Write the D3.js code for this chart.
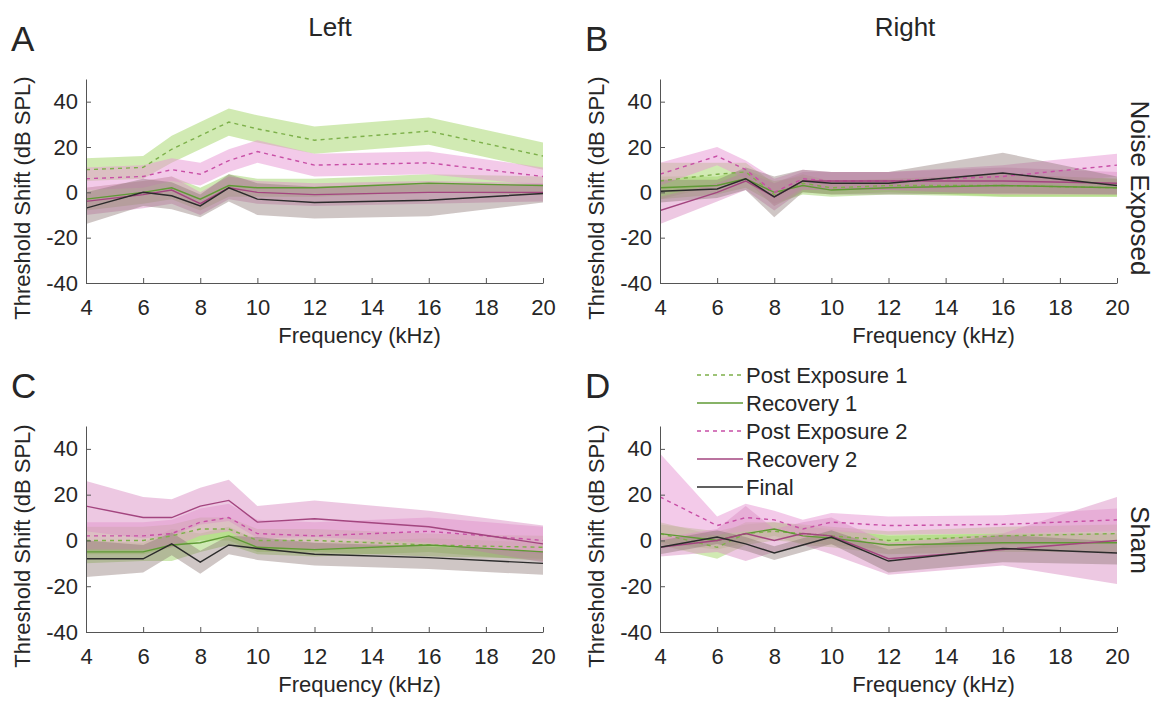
<!DOCTYPE html>
<html>
<head>
<meta charset="utf-8">
<script src="https://cdn.jsdelivr.net/npm/d3@7"></script>
<style>
  html, body { margin: 0; padding: 0; background: #fff; }
  svg { display: block; font-family: "Liberation Sans", Arial, Helvetica, sans-serif; }
</style>
</head>
<body>
<svg id="fig" width="1163" height="702"></svg>
<script>
// Test frequencies (kHz)
const freqs = [4, 6, 7, 8, 9, 10, 12, 16, 20];
const seriesNames = ["Post Exposure 1", "Recovery 1", "Post Exposure 2", "Recovery 2", "Final"];
const xTicks = [4, 6, 8, 10, 12, 14, 16, 18, 20];
const yTicks = [-40, -20, 0, 20, 40];

// Panel A: left ear, noise exposed (mean and SD, dB)
const leftNoisePE1 = [10, 11, 19, 25, 31, 28, 23, 27, 16];
const leftNoisePE1Sd = [5, 5, 6, 6, 6, 6, 6, 6, 6];
const leftNoiseR1 = [-3, 0, 2, -3, 3, 2, 2, 4, 3];
const leftNoiseR1Sd = [5, 5, 5, 5, 5, 4, 4, 4, 4];
const leftNoisePE2 = [6, 7, 10, 8, 14, 18, 12, 13, 7];
const leftNoisePE2Sd = [5, 5, 5, 5, 5, 5, 5, 5, 4];
const leftNoiseR2 = [-4, -1, 1, -5, 2, 0, -1, 0, 0];
const leftNoiseR2Sd = [6, 6, 6, 5, 5, 5, 5, 5, 4];
const leftNoiseFinal = [-7, 0, -1.5, -6, 2, -3, -4.5, -3.5, -0.5];
const leftNoiseFinalSd = [7, 6, 6, 5, 6, 7, 7, 7, 4];

// Panel B: right ear, noise exposed
const rightNoisePE1 = [5, 8, 9, -1, 4, 2, 3, 3, 2];
const rightNoisePE1Sd = [8, 5, 4, 5, 4, 3, 3, 5, 4];
const rightNoiseR1 = [2, 3, 6, 0, 3, 1, 2, 3, 2];
const rightNoiseR1Sd = [5, 4, 4, 5, 4, 3, 3, 5, 4];
const rightNoisePE2 = [8, 16, 10, 0, 6, 5, 5, 7, 12];
const rightNoisePE2Sd = [5, 4, 4, 6, 4, 4, 4, 5, 5];
const rightNoiseR2 = [-8, 0, 5, -2, 5, 5, 5, 5, 4];
const rightNoiseR2Sd = [6, 4, 4, 6, 4, 4, 4, 6, 5];
const rightNoiseFinal = [0.5, 1.5, 6, -2, 5, 4, 4, 8.5, 3];
const rightNoiseFinalSd = [5, 4, 5, 9, 5, 5, 5, 9, 4];

// Panel C: left ear, sham
const leftShamPE1 = [0, 0, 2, 5, 5, 0, 0, -2, -3];
const leftShamPE1Sd = [6, 6, 5, 5, 5, 5, 5, 5, 5];
const leftShamR1 = [-5, -5, -2, -1, 2, -3, -4, -2, -5];
const leftShamR1Sd = [5, 4, 7, 4, 4, 3, 3, 3, 4];
const leftShamPE2 = [2, 2, 3, 8, 10, 3, 2, 4, 0];
const leftShamPE2Sd = [6, 6, 6, 6, 6, 6, 6, 6, 6];
const leftShamR2 = [15, 10, 10, 15, 17.5, 8, 9.5, 6, -1.5];
const leftShamR2Sd = [11, 9, 8, 8, 9, 7, 8, 7, 8];
const leftShamFinal = [-8, -8, -1.5, -9.5, -2, -3.5, -6, -7.5, -10];
const leftShamFinalSd = [8, 6, 5, 5, 4, 5, 5, 5, 5];

// Panel D: right ear, sham
const rightShamPE1 = [3, -3, 3, 4, 3, 2, 0, 2, 3];
const rightShamPE1Sd = [5, 5, 5, 4, 4, 4, 4, 4, 4];
const rightShamR1 = [3, 0, 3, 5, 2, 1, -2, -1, -1];
const rightShamR1Sd = [4, 4, 4, 3, 4, 4, 4, 4, 4];
const rightShamPE2 = [19, 6.5, 10, 9, 5, 8, 6.5, 7, 9];
const rightShamPE2Sd = [19, 4, 6, 4, 4, 4, 4, 4, 5];
const rightShamR2 = [-3, 0, 3, 0, 3, 2, -8, -4, 0];
const rightShamR2Sd = [4, 5, 12, 5, 5, 8, 7, 7, 19];
const rightShamFinal = [-3, 1.5, -1.5, -5.5, -2, 1.5, -9, -3.5, -5.5];
const rightShamFinalSd = [3, 3, 3, 3, 3, 3, 5, 6, 5];

// Line and band styling for each condition
const styles = [
  { line: "#7db04a", fill: "#b2dc80", fillOpacity: 0.6, dash: "4,4" },
  { line: "#5f9a35", fill: "#a0d46a", fillOpacity: 0.5, dash: null },
  { line: "#c84fa6", fill: "#e796d4", fillOpacity: 0.5, dash: "4,4" },
  { line: "#a3457f", fill: "#dc92c6", fillOpacity: 0.5, dash: null },
  { line: "#2b2b2b", fill: "#86706f", fillOpacity: 0.4, dash: null }
];

const panels = [
  { letter: "A", x0: 86, x1: 543, yBot: 283, yTop: 79,
    means: [leftNoisePE1, leftNoiseR1, leftNoisePE2, leftNoiseR2, leftNoiseFinal],
    sds: [leftNoisePE1Sd, leftNoiseR1Sd, leftNoisePE2Sd, leftNoiseR2Sd, leftNoiseFinalSd] },
  { letter: "B", x0: 660, x1: 1117, yBot: 283, yTop: 79,
    means: [rightNoisePE1, rightNoiseR1, rightNoisePE2, rightNoiseR2, rightNoiseFinal],
    sds: [rightNoisePE1Sd, rightNoiseR1Sd, rightNoisePE2Sd, rightNoiseR2Sd, rightNoiseFinalSd] },
  { letter: "C", x0: 86, x1: 543, yBot: 632, yTop: 426,
    means: [leftShamPE1, leftShamR1, leftShamPE2, leftShamR2, leftShamFinal],
    sds: [leftShamPE1Sd, leftShamR1Sd, leftShamPE2Sd, leftShamR2Sd, leftShamFinalSd] },
  { letter: "D", x0: 660, x1: 1117, yBot: 632, yTop: 426,
    means: [rightShamPE1, rightShamR1, rightShamPE2, rightShamR2, rightShamFinal],
    sds: [rightShamPE1Sd, rightShamR1Sd, rightShamPE2Sd, rightShamR2Sd, rightShamFinalSd] }
];

const svg = d3.select("#fig");
const textColor = "#262626";
const axisColor = "#555";
const fs = 22;

panels.forEach((p, pi) => {
  const x = d3.scaleLinear().domain([4, 20]).range([p.x0, p.x1]);
  const y = d3.scaleLinear().domain([-40, 50]).range([p.yBot, p.yTop]);
  const g = svg.append("g");

  const clipId = "clip" + pi;
  svg.append("clipPath").attr("id", clipId).append("rect")
    .attr("x", p.x0).attr("y", p.yTop).attr("width", p.x1 - p.x0).attr("height", p.yBot - p.yTop);

  const plot = g.append("g").attr("clip-path", `url(#${clipId})`);
  p.means.forEach((m, si) => {
    const st = styles[si];
    const rows = freqs.map((f, i) => ({ f, m: m[i], sd: p.sds[si][i] }));
    const area = d3.area().x(d => x(d.f)).y0(d => y(d.m - d.sd)).y1(d => y(d.m + d.sd));
    plot.append("path").datum(rows).attr("d", area)
      .attr("fill", st.fill).attr("fill-opacity", st.fillOpacity).attr("stroke", "none");
  });
  p.means.forEach((m, si) => {
    const st = styles[si];
    const rows = freqs.map((f, i) => ({ f, m: m[i] }));
    const line = d3.line().x(d => x(d.f)).y(d => y(d.m));
    plot.append("path").datum(rows).attr("d", line)
      .attr("fill", "none").attr("stroke", st.line).attr("stroke-width", 1.4)
      .attr("stroke-dasharray", st.dash);
  });

  // Axes with inward ticks
  const xAxis = d3.axisBottom(x).tickValues(xTicks).tickSizeInner(-5).tickSizeOuter(0).tickPadding(16);
  const yAxis = d3.axisLeft(y).tickValues(yTicks).tickSizeInner(-5).tickSizeOuter(0).tickPadding(8)
    .tickFormat(d => d < 0 ? "-" + Math.abs(d) : d);
  const gx = g.append("g").attr("transform", `translate(0,${p.yBot})`).call(xAxis);
  const gy = g.append("g").attr("transform", `translate(${p.x0},0)`).call(yAxis);
  [gx, gy].forEach(a => {
    a.select(".domain").attr("stroke", axisColor);
    a.selectAll(".tick line").attr("stroke", axisColor);
    a.selectAll(".tick text").attr("fill", textColor).style("font-size", fs + "px")
      .style("font-family", '"Liberation Sans", Arial, sans-serif');
  });

  // Axis titles
  g.append("text").attr("x", (p.x0 + p.x1) / 2 + 45).attr("y", p.yBot + 60)
    .attr("text-anchor", "middle").attr("fill", textColor).style("font-size", fs + "px")
    .text("Frequency (kHz)");
  const ylx = p.x0 - 56, yly = (p.yTop + p.yBot) / 2 + 17;
  g.append("text").attr("transform", `translate(${ylx},${yly}) rotate(-90)`)
    .attr("text-anchor", "middle").attr("fill", textColor).style("font-size", fs + "px")
    .text("Threshold Shift (dB SPL)");

  // Panel letter
  g.append("text").attr("x", p.x0 - 75).attr("y", p.yTop - 28)
    .attr("fill", textColor).style("font-size", "35px").text(p.letter);
});

// Column and row headers
svg.append("text").attr("x", 330).attr("y", 36).attr("text-anchor", "middle")
  .attr("fill", textColor).style("font-size", "26px").text("Left");
svg.append("text").attr("x", 905).attr("y", 36).attr("text-anchor", "middle")
  .attr("fill", textColor).style("font-size", "26px").text("Right");
svg.append("text").attr("transform", "translate(1131,188) rotate(90)").attr("text-anchor", "middle")
  .attr("fill", textColor).style("font-size", "26px").text("Noise Exposed");
svg.append("text").attr("transform", "translate(1131,540) rotate(90)").attr("text-anchor", "middle")
  .attr("fill", textColor).style("font-size", "26px").text("Sham");

// Legend
const legend = svg.append("g");
seriesNames.forEach((name, i) => {
  const yy = 375 + i * 28;
  const st = styles[i];
  legend.append("line").attr("x1", 697).attr("x2", 743).attr("y1", yy).attr("y2", yy)
    .attr("stroke", st.line).attr("stroke-width", 1.4).attr("stroke-dasharray", st.dash);
  legend.append("text").attr("x", 746).attr("y", yy).attr("dy", "0.35em")
    .attr("fill", textColor).style("font-size", fs + "px").text(name);
});
</script>
</body>
</html>
